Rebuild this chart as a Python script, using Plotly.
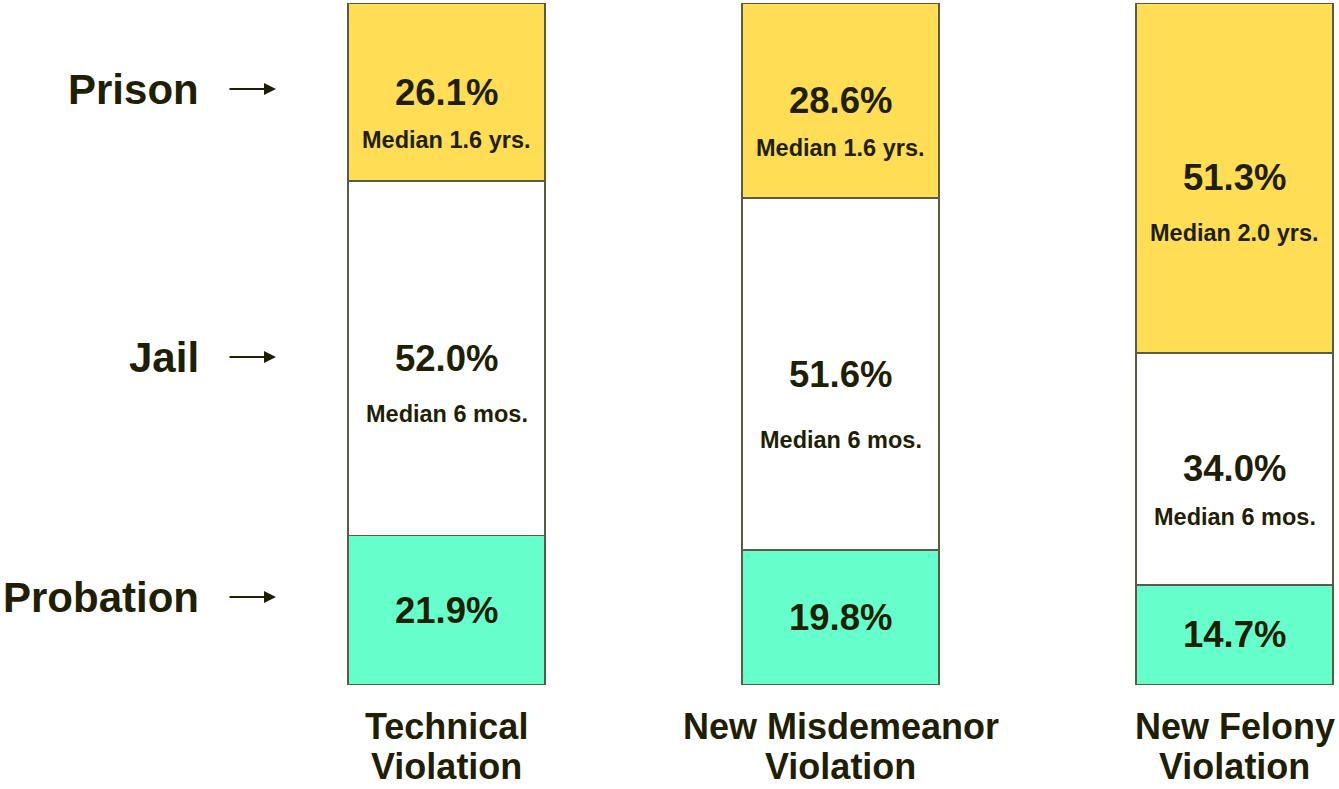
import plotly.graph_objects as go

# ---- data ----
categories = ["Technical<br>Violation", "New Misdemeanor<br>Violation", "New Felony<br>Violation"]
outcomes = ["Probation", "Jail", "Prison"]
probation_pct = [21.9, 19.8, 14.7]
jail_pct = [52.0, 51.6, 34.0]
prison_pct = [26.1, 28.6, 51.3]
jail_median = ["Median 6 mos.", "Median 6 mos.", "Median 6 mos."]
prison_median = ["Median 1.6 yrs.", "Median 1.6 yrs.", "Median 2.0 yrs."]

# ---- style ----
W, H = 1339, 789
M_L, M_R, M_T, M_B = 0, 0, 3, 104
TXT = "#1f1f05"
EDGE = "#5b5b45"
FONT = "Liberation Sans, Arial, sans-serif"
colors = {"Probation": "#66ffcc", "Jail": "#ffffff", "Prison": "#ffdd55"}
# pixel offsets of median labels below the percentage labels
jail_med_shift = [-56, -66, -48]
prison_med_shift = [-48, -47, -55]

x = [0, 1, 2]
series = {"Probation": probation_pct, "Jail": jail_pct, "Prison": prison_pct}

fig = go.Figure()
for name in outcomes:
    fig.add_trace(go.Bar(
        x=x, y=series[name], name=name, width=0.5,
        marker=dict(color=colors[name], line=dict(color=EDGE, width=1.5)),
        hoverinfo="skip", showlegend=False,
    ))

annotations = []
for i in x:
    base = 0.0
    for name in outcomes:
        v = series[name][i]
        center = base + v / 2
        annotations.append(dict(x=i, y=center, xref="x", yref="y", text=f"{v:.1f}%",
                                showarrow=False, font=dict(size=36.5, color=TXT, family=FONT, weight=700)))
        if name == "Jail":
            annotations.append(dict(x=i, y=center, xref="x", yref="y", text=jail_median[i],
                                    yshift=jail_med_shift[i], showarrow=False,
                                    font=dict(size=23.5, color=TXT, family=FONT, weight=700)))
        if name == "Prison":
            annotations.append(dict(x=i, y=center, xref="x", yref="y", text=prison_median[i],
                                    yshift=prison_med_shift[i], showarrow=False,
                                    font=dict(size=23.5, color=TXT, family=FONT, weight=700)))
        base += v
    # category labels, one annotation per line
    lines = categories[i].split("<br>")
    for k, line in enumerate(lines):
        annotations.append(dict(x=i, y=0, xref="x", yref="paper", text=line, showarrow=False,
                                yshift=-41 - 40 * k, yanchor="middle",
                                font=dict(size=36, color=TXT, family=FONT, weight=700)))

# left row labels with arrows
plot_h = H - M_T - M_B
row_label_px = {"Prison": 89, "Jail": 357, "Probation": 597}
for name in outcomes:
    py = row_label_px[name]
    yp = (H - M_B - py) / plot_h
    annotations.append(dict(x=201 / W, y=yp, xref="paper", yref="paper", text=name,
                            xanchor="right", yanchor="middle", showarrow=False,
                            font=dict(size=42, color=TXT, family=FONT, weight=700)))
    annotations.append(dict(x=276 / W, y=yp, xref="paper", yref="paper", text="",
                            showarrow=True, ax=-48, ay=0, arrowhead=2, arrowsize=1.2,
                            arrowwidth=2, arrowcolor=TXT))

x0 = -446.5 / 394
x1 = (W - 446.5) / 394
fig.update_layout(
    barmode="stack", width=W, height=H,
    margin=dict(l=M_L, r=M_R, t=M_T, b=M_B),
    paper_bgcolor="white", plot_bgcolor="white",
    xaxis=dict(range=[x0, x1], visible=False, fixedrange=True),
    yaxis=dict(range=[0, 100], visible=False, fixedrange=True),
    annotations=annotations,
    font=dict(family=FONT, color=TXT),
)
fig.write_html("out.html", config={"displayModeBar": False},
               post_script="document.body.style.margin='0';document.body.style.overflow='hidden';")
